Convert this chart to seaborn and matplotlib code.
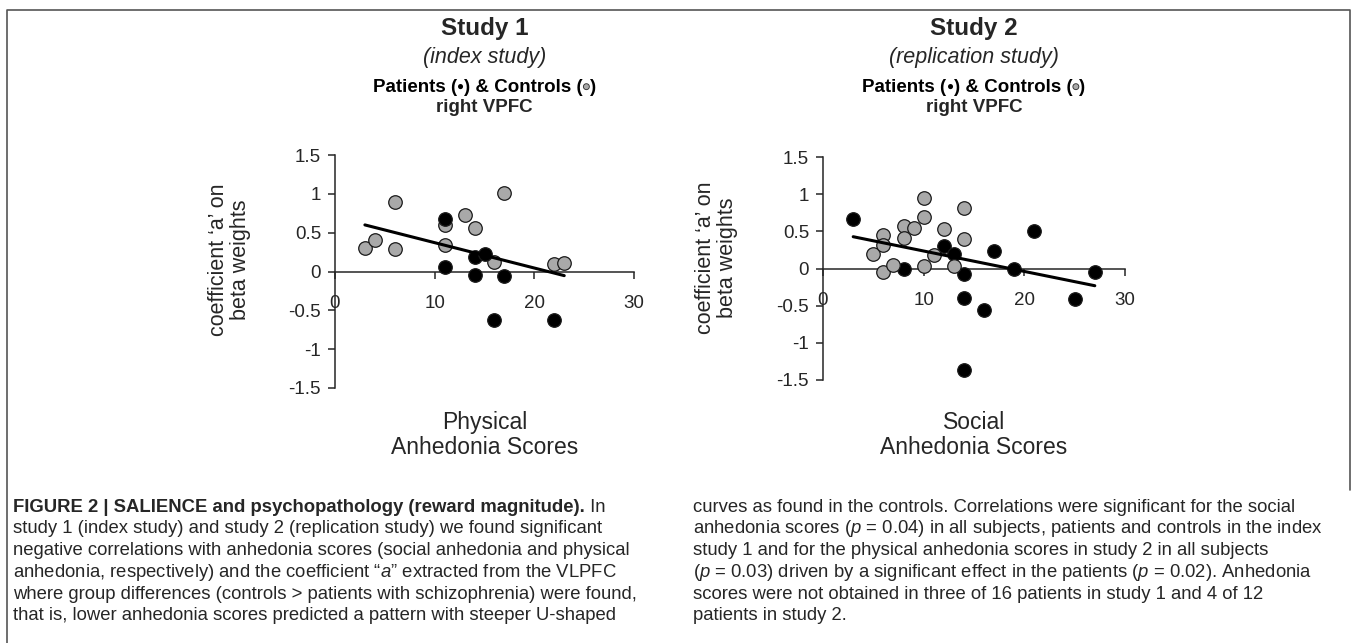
import numpy as np
import pandas as pd
import seaborn as sns
import matplotlib.pyplot as plt
import matplotlib.patheffects as pe
from matplotlib.lines import Line2D

# study 1 (index study) - physical anhedonia
s1_ctrl_x = [3, 4, 6, 6, 11, 11, 13, 14, 16, 17, 22, 23]
s1_ctrl_y = [0.30, 0.40, 0.90, 0.29, 0.60, 0.34, 0.73, 0.56, 0.12, 1.01, 0.10, 0.11]
s1_pat_x = [11, 11, 14, 15, 14, 17, 16, 22]
s1_pat_y = [0.68, 0.06, 0.19, 0.23, -0.05, -0.06, -0.62, -0.62]

# study 2 (replication study) - social anhedonia
s2_ctrl_x = [5, 6, 6, 6, 7, 8, 8, 9, 10, 10, 10, 11, 12, 13, 14, 14]
s2_ctrl_y = [0.19, 0.45, 0.31, -0.05, 0.05, 0.57, 0.41, 0.54, 0.95, 0.69, 0.04, 0.18, 0.53, 0.04, 0.81, 0.40]
s2_pat_x = [3, 8, 12, 13, 14, 14, 14, 16, 17, 19, 21, 25, 27]
s2_pat_y = [0.66, -0.01, 0.30, 0.20, -0.08, -0.40, -1.37, -0.56, 0.24, -0.01, 0.50, -0.41, -0.05]

x_ticks = [0, 10, 20, 30]
y_ticks = [-1.5, -1, -0.5, 0, 0.5, 1, 1.5]
y_tick_labels = ['-1.5', '-1', '-0.5', '0', '0.5', '1', '1.5']

caption_left = [
    'study 1 (index study) and study 2 (replication study) we found significant',
    'negative correlations with anhedonia scores (social anhedonia and physical',
    'anhedonia, respectively) and the coefficient \u201c$a$\u201d extracted from the VLPFC',
    'where group differences (controls > patients with schizophrenia) were found,',
    'that is, lower anhedonia scores predicted a pattern with steeper U-shaped',
]
caption_right = [
    'curves as found in the controls. Correlations were significant for the social',
    'anhedonia scores ($p$ = 0.04) in all subjects, patients and controls in the index',
    'study 1 and for the physical anhedonia scores in study 2 in all subjects',
    '($p$ = 0.03) driven by a significant effect in the patients ($p$ = 0.02). Anhedonia',
    'scores were not obtained in three of 16 patients in study 1 and 4 of 12',
    'patients in study 2.',
]


def make_df(cx, cy, px, py):
    ctrl = pd.DataFrame({'score': cx, 'coef': cy, 'group': 'Controls'})
    pat = pd.DataFrame({'score': px, 'coef': py, 'group': 'Patients'})
    return pd.concat([ctrl, pat], ignore_index=True)


study1 = make_df(s1_ctrl_x, s1_ctrl_y, s1_pat_x, s1_pat_y)
study2 = make_df(s2_ctrl_x, s2_ctrl_y, s2_pat_x, s2_pat_y)

sns.set_style('white')
plt.rcParams['font.family'] = ['Liberation Sans', 'DejaVu Sans']
plt.rcParams['mathtext.fontset'] = 'custom'
plt.rcParams['mathtext.it'] = 'Liberation Sans:italic'
plt.rcParams['mathtext.rm'] = 'Liberation Sans'

W, H = 1357, 643
fig = plt.figure(figsize=(W / 100, H / 100), dpi=100)

# background axes in pixel coordinates for frame + caption
bg = fig.add_axes([0, 0, 1, 1], zorder=-1)
bg.set_xlim(0, W)
bg.set_ylim(H, 0)
bg.axis('off')

grey = '#a9a9a9'
palette = {'Controls': grey, 'Patients': 'black'}
ink = '#262626'


def panel(rect, df, order, xlabel, xlab_y):
    ax = fig.add_axes(rect)
    for g in order:
        sub = df[df['group'] == g]
        sns.scatterplot(data=sub, x='score', y='coef', color=palette[g], s=95,
                        edgecolor='#1a1a1a', linewidth=0.9, ax=ax, legend=False,
                        zorder=3, clip_on=False)
    sns.regplot(data=df, x='score', y='coef', scatter=False, ci=None, truncate=True,
                line_kws={'color': 'black', 'lw': 2.2, 'zorder': 4}, ax=ax)
    ax.set_xlim(0, 30)
    ax.set_ylim(-1.5, 1.5)
    ax.spines['bottom'].set_position(('data', 0))
    ax.spines['top'].set_visible(False)
    ax.spines['right'].set_visible(False)
    for s in ('left', 'bottom'):
        ax.spines[s].set_color(ink)
        ax.spines[s].set_linewidth(1.1)
    ax.set_xticks(x_ticks)
    ax.set_yticks(y_ticks)
    ax.set_yticklabels(y_tick_labels)
    ax.tick_params(axis='y', direction='out', length=5, width=1.1, color=ink,
                   pad=5, labelsize=13.5, left=True)
    ax.tick_params(axis='x', direction='out', length=5, width=1.1, color=ink,
                   pad=12, labelsize=13.5, bottom=True)
    ax.set_ylabel('coefficient \u2018a\u2019 on\nbeta weights', fontsize=15.5, linespacing=1.1)
    ax.yaxis.set_label_coords(-0.28, 0.55)
    ax.set_xlabel(xlabel, fontsize=16.5, linespacing=1.12, va='top')
    ax.xaxis.set_label_coords(0.5, xlab_y)
    return ax


ax1 = panel([335 / W, 1 - 388 / H, 299 / W, 233 / H], study1,
            ['Controls', 'Patients'], 'Physical\nAnhedonia Scores', -0.10)
ax2 = panel([823 / W, 1 - 380 / H, 302 / W, 223 / H], study2,
            ['Patients', 'Controls'], 'Social\nAnhedonia Scores', -0.14)

renderer = fig.canvas.get_renderer()


def titles(cx, name, sub):
    bg.text(cx, 28, name, ha='center', va='center', fontsize=17.5, fontweight='bold')
    bg.text(cx, 58, sub, ha='center', va='center', fontsize=15.5, style='italic')
    # legend line built from pieces so the symbols can be coloured
    pieces = [('Patients (', 'black', 13.5), ('\u25cf', 'black', 8.5),
              (') & Controls (', 'black', 13.5), ('\u25cf', grey, 8.5), (')', 'black', 13.5)]
    texts = []
    for s, c, fs in pieces:
        t = bg.text(0, 87, s, ha='left', va='center', fontsize=fs, fontweight='bold', color=c)
        if c == grey:
            t.set_path_effects([pe.withStroke(linewidth=1.3, foreground='#333333')])
        texts.append(t)
    widths = [t.get_window_extent(renderer).width for t in texts]
    x = cx - sum(widths) / 2
    for t, w in zip(texts, widths):
        t.set_x(x)
        x += w
    bg.text(cx, 107, 'right VPFC', ha='center', va='center', fontsize=13.5, fontweight='bold')


titles(484.5, 'Study 1', '(index study)')
titles(974, 'Study 2', '(replication study)')

# frame around the figure
bg.add_line(Line2D([7, 7, 1350, 1350], [H + 5, 10, 10, 490], color='#555555', lw=1.2))

cap_size = 13.3
y0, dy = 507, 21.8
head = bg.text(13, y0, 'FIGURE 2 | SALIENCE and psychopathology (reward magnitude).',
               ha='left', va='center', fontsize=cap_size, fontweight='bold')
w_head = head.get_window_extent(renderer).width
bg.text(13 + w_head, y0, ' In', ha='left', va='center', fontsize=cap_size)
for i, line in enumerate(caption_left):
    bg.text(13, y0 + dy * (i + 1), line, ha='left', va='center', fontsize=cap_size)
for i, line in enumerate(caption_right):
    bg.text(693, y0 + dy * i, line, ha='left', va='center', fontsize=cap_size)

fig.savefig('out.png', dpi=100)
